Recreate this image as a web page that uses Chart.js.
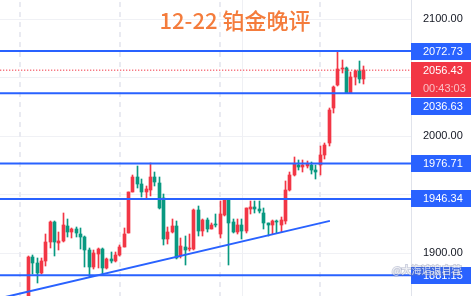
<!DOCTYPE html>
<html>
<head>
<meta charset="utf-8">
<script src="https://cdn.jsdelivr.net/npm/chart.js@4/dist/chart.umd.min.js"></script>
<style>
  html, body { margin: 0; padding: 0; background: #ffffff; overflow: hidden; }
  canvas { display: block; }
</style>
</head>
<body>
<canvas id="chart" width="471" height="296"></canvas>
<script>
// Platinum (XPT/USD) candles, one entry per bar
const opens = [
  1859.8, 1896.6, 1891.2, 1882.9, 1893.2, 1909.4, 1926.9, 1908.8, 1910.4, 1923.1,
  1918.2, 1920.3, 1916.8, 1913.9, 1902.6, 1888.0, 1899.0, 1903.6, 1887.6, 1895.0,
  1893.2, 1898.3, 1905.1, 1917.5, 1952.4, 1965.0, 1959.0, 1952.1, 1954.4, 1964.7,
  1960.4, 1946.8, 1912.2, 1917.9, 1923.1, 1897.4, 1905.1, 1903.2, 1903.7, 1936.8,
  1918.8, 1928.2, 1920.8, 1925.0, 1916.8, 1932.5, 1945.3, 1926.5, 1917.9, 1924.5,
  1918.8, 1937.9, 1939.3, 1937.9, 1934.4, 1925.4, 1924.5, 1927.9, 1923.9, 1927.4,
  1953.8, 1966.7, 1975.2, 1973.8, 1974.6, 1975.2, 1970.9, 1975.2, 1983.8, 1993.8,
  2023.7, 2043.6, 2057.0, 2058.7, 2037.0, 2050.7, 2055.8, 2049.3
];
const highs = [
  1897.7, 1898.3, 1895.7, 1895.5, 1916.8, 1927.8, 1927.8, 1917.9, 1934.2, 1929.1,
  1921.4, 1922.5, 1921.1, 1914.5, 1904.0, 1902.6, 1904.5, 1904.5, 1895.5, 1901.1,
  1901.1, 1906.7, 1921.1, 1952.6, 1966.7, 1974.4, 1963.8, 1957.3, 1976.7, 1969.4,
  1965.2, 1951.0, 1922.2, 1928.8, 1927.4, 1913.1, 1915.1, 1916.0, 1937.4, 1940.2,
  1929.3, 1930.2, 1925.9, 1933.1, 1944.5, 1946.3, 1946.3, 1928.8, 1929.3, 1928.8,
  1938.7, 1944.4, 1944.4, 1944.4, 1938.7, 1925.9, 1928.2, 1928.2, 1930.8, 1961.5,
  1969.5, 1982.1, 1979.5, 1979.5, 1978.6, 1978.0, 1975.2, 1991.5, 1993.8, 2023.7,
  2042.7, 2072.7, 2065.0, 2059.0, 2055.0, 2056.4, 2064.1, 2059.8
];
const lows = [
  1855.6, 1882.6, 1874.6, 1882.1, 1888.9, 1904.3, 1897.4, 1902.6, 1909.7, 1913.8,
  1912.8, 1913.9, 1903.4, 1888.0, 1879.5, 1886.3, 1887.2, 1882.1, 1886.8, 1891.2,
  1892.6, 1897.4, 1904.9, 1917.2, 1951.9, 1955.3, 1948.1, 1946.8, 1948.7, 1957.3,
  1938.0, 1907.4, 1907.7, 1917.3, 1894.9, 1896.0, 1889.5, 1901.7, 1902.6, 1914.5,
  1914.5, 1917.9, 1920.3, 1922.5, 1913.1, 1931.6, 1889.7, 1917.3, 1916.0, 1911.7,
  1917.3, 1933.1, 1934.4, 1934.4, 1920.3, 1914.5, 1916.8, 1917.4, 1917.9, 1924.8,
  1953.0, 1966.2, 1970.9, 1969.5, 1972.4, 1968.1, 1963.8, 1966.7, 1980.9, 1991.5,
  2019.9, 2042.7, 2053.6, 2036.6, 2036.8, 2043.6, 2045.6, 2045.0
];
const closes = [
  1896.8, 1891.7, 1882.9, 1893.2, 1909.4, 1926.5, 1909.4, 1910.4, 1923.9, 1918.2,
  1920.5, 1917.4, 1913.9, 1902.6, 1888.3, 1900.0, 1903.2, 1887.6, 1894.9, 1893.6,
  1898.1, 1905.4, 1916.8, 1952.4, 1964.7, 1959.0, 1952.4, 1954.5, 1965.0, 1960.7,
  1938.7, 1912.4, 1917.9, 1923.1, 1895.7, 1906.0, 1902.6, 1903.7, 1936.8, 1918.8,
  1928.2, 1920.3, 1924.5, 1923.9, 1933.1, 1945.3, 1925.9, 1917.9, 1924.5, 1918.8,
  1938.2, 1939.3, 1937.9, 1935.9, 1925.4, 1924.5, 1927.1, 1926.5, 1928.2, 1954.4,
  1966.7, 1976.3, 1973.8, 1975.2, 1975.8, 1970.9, 1969.5, 1983.8, 1992.3, 2022.8,
  2042.1, 2057.0, 2058.7, 2036.7, 2050.2, 2055.8, 2049.3, 2056.43
];

// Support / resistance levels and the live quote
const levelValues = [2072.73, 2036.63, 1976.71, 1946.34, 1881.15];
const lastPrice = 2056.43;
const countdownText = '00:43:03';

// Rising trend line: bar positions and prices of its two ends
const trendBars = [-6.5, 69.2];
const trendPrices = [1861.5, 1927.6];

// Price axis ticks and vertical separators (bar positions)
const priceTicks = [1900, 1950, 2000, 2050, 2100];
const sessionBars = [-2, 21, 44, 67];
const gridBars = [49];

const titleText = '12-22 铂金晚评';
const watermarkText = '@大海追浪自营';

const RED = '#f23645';
const GREEN = '#089981';
const BLUE = '#2962ff';
const X_MIN = -6.5, X_MAX = 87.8;
const Y_MIN = 1863.4, Y_MAX = 2116.4;
const AXIS_FONT = '11px "Liberation Sans", Arial, sans-serif';

const barIdx = opens.map((_, i) => i);
const candleColors = barIdx.map(i => closes[i] >= opens[i] ? RED : GREEN);

const levelDatasets = levelValues.map(v => ({
  type: 'line',
  data: [{ x: X_MIN, y: v }, { x: X_MAX, y: v }],
  borderColor: BLUE,
  borderWidth: 2,
  pointRadius: 0,
  order: 0
}));

// Snap candle rectangles to whole pixels so bodies and wicks stay crisp
const pixelSnap = {
  id: 'pixelSnap',
  afterDatasetsUpdate(chart) {
    chart.data.datasets.forEach((ds, di) => {
      if (ds.type && ds.type !== 'bar') return;
      chart.getDatasetMeta(di).data.forEach(el => {
        el.x = Math.floor(el.x) + 0.5;
        let top = Math.round(Math.min(el.y, el.base));
        let bot = Math.round(Math.max(el.y, el.base));
        if (bot - top < 1) bot = top + 1;
        el.y = top;
        el.base = bot;
      });
    });
  }
};

// Vertical separators, price tags, title and watermark
const decor = {
  id: 'decor',
  beforeDatasetsDraw(chart) {
    const { ctx, chartArea: a, scales: { x } } = chart;
    ctx.save();
    ctx.strokeStyle = '#e9eaf1';
    ctx.lineWidth = 2;
    ctx.setLineDash([5, 5]);
    sessionBars.forEach(b => {
      const px = Math.round(x.getPixelForValue(b));
      ctx.beginPath();
      ctx.moveTo(px, a.top + 2);
      ctx.lineTo(px, a.bottom);
      ctx.stroke();
    });
    ctx.setLineDash([]);
    ctx.lineWidth = 1;
    ctx.strokeStyle = '#eff0f4';
    gridBars.forEach(b => {
      const px = Math.round(x.getPixelForValue(b)) + 0.5;
      ctx.beginPath();
      ctx.moveTo(px, a.top);
      ctx.lineTo(px, a.bottom);
      ctx.stroke();
    });
    ctx.restore();
  },
  afterDraw(chart) {
    const { ctx, chartArea: a, scales: { y } } = chart;
    const left = a.right;
    const right = chart.width;
    const h = 17;
    const tags = levelValues.map(v => ({ v, text: v.toFixed(2), color: BLUE, h }));
    tags.push({ v: lastPrice, text: lastPrice.toFixed(2), sub: countdownText, color: RED, h: 35 });
    tags.forEach(t => { t.top = y.getPixelForValue(t.v) - h / 2; });
    tags.sort((p, q) => p.top - q.top);
    let prevBottom = -Infinity;
    tags.forEach(t => {
      if (t.top < prevBottom + 1) t.top = prevBottom + 1;
      prevBottom = t.top + t.h;
    });
    ctx.save();
    ctx.font = AXIS_FONT;
    ctx.textBaseline = 'middle';
    ctx.textAlign = 'left';
    tags.forEach(t => {
      ctx.fillStyle = t.color;
      ctx.fillRect(left, Math.round(t.top), right - left, t.h);
      ctx.fillStyle = '#ffffff';
      ctx.fillText(t.text, left + 12, Math.round(t.top) + h / 2 + 0.5);
      if (t.sub) {
        ctx.fillStyle = 'rgba(255,255,255,0.68)';
        ctx.fillText(t.sub, left + 12, Math.round(t.top) + h / 2 + 18);
      }
    });

    // watermark
    ctx.font = '10px "Noto Sans CJK SC", sans-serif';
    ctx.textBaseline = 'middle';
    ctx.lineWidth = 2;
    ctx.strokeStyle = 'rgba(110,120,160,0.35)';
    ctx.strokeText(watermarkText, 392, 270);
    ctx.fillStyle = 'rgba(255,255,255,0.75)';
    ctx.fillText(watermarkText, 392, 270);

    // title
    ctx.font = '500 22px "Noto Sans CJK SC", sans-serif';
    ctx.textAlign = 'center';
    ctx.textBaseline = 'alphabetic';
    ctx.fillStyle = '#f47c3c';
    ctx.fillText(titleText, 235, 29);
    ctx.restore();
  }
};

new Chart(document.getElementById('chart'), {
  type: 'bar',
  data: {
    datasets: [
      ...levelDatasets,
      {
        type: 'line',
        data: [{ x: X_MIN, y: lastPrice }, { x: X_MAX, y: lastPrice }],
        borderColor: RED,
        borderWidth: 1,
        borderDash: [1.3, 1.7],
        pointRadius: 0,
        order: 0
      },
      {
        type: 'line',
        data: trendBars.map((b, i) => ({ x: b, y: trendPrices[i] })),
        borderColor: BLUE,
        borderWidth: 2,
        pointRadius: 0,
        order: 0
      },
      {
        type: 'bar',
        data: barIdx.map(i => ({ x: i, y: [opens[i], closes[i]] })),
        backgroundColor: candleColors,
        barThickness: 3,
        minBarLength: 1,
        grouped: false,
        order: 1
      },
      {
        type: 'bar',
        data: barIdx.map(i => ({ x: i, y: [lows[i], highs[i]] })),
        backgroundColor: candleColors,
        barThickness: 1,
        grouped: false,
        order: 2
      }
    ]
  },
  options: {
    responsive: false,
    devicePixelRatio: 1,
    animation: false,
    layout: { padding: 0 },
    plugins: { legend: { display: false }, tooltip: { enabled: false }, title: { display: false } },
    scales: {
      x: {
        type: 'linear',
        min: X_MIN,
        max: X_MAX,
        offset: false,
        display: false
      },
      y: {
        position: 'right',
        min: Y_MIN,
        max: Y_MAX,
        afterBuildTicks: s => { s.ticks = priceTicks.map(v => ({ value: v })); },
        afterFit: s => {
          s.width = 60;
          s.paddingTop = 0;
          s.paddingBottom = 0;
        },
        grid: { color: '#f0f1f5', lineWidth: 1, drawTicks: false },
        border: { display: true, color: '#e0e3eb' },
        ticks: {
          padding: 12,
          color: '#131722',
          font: { family: '"Liberation Sans", Arial, sans-serif', size: 11 },
          callback: v => Number(v).toFixed(2)
        }
      }
    }
  },
  plugins: [pixelSnap, decor]
});
</script>
</body>
</html>
